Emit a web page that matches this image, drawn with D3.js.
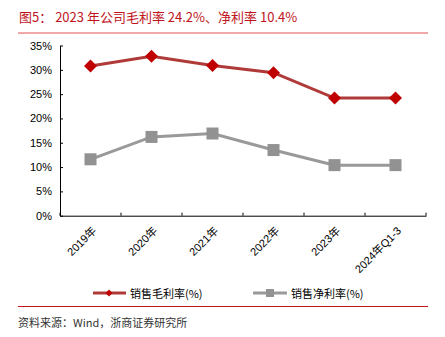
<!DOCTYPE html>
<html><head><meta charset="utf-8">
<script src="https://cdn.jsdelivr.net/npm/d3@7"></script>
<style>
body{margin:0;background:#fff;}
svg{display:block;font-family:"Liberation Sans","Noto Sans CJK SC",sans-serif;}
</style></head>
<body><svg id="c" width="445" height="337"></svg>
<script>
const categories = ["2019年","2020年","2021年","2022年","2023年","2024年Q1-3"];
const grossMargin = [30.8, 32.8, 30.9, 29.4, 24.2, 24.2];
const netMargin = [11.6, 16.2, 16.9, 13.5, 10.4, 10.4];
const yTicks = [0,5,10,15,20,25,30,35];
const seriesNames = ["销售毛利率(%)","销售净利率(%)"];
const titleText = "图5： 2023 年公司毛利率 24.2%、净利率 10.4%";
const sourceText = "资料来源：Wind，浙商证券研究所";

const svg = d3.select("#c");
const cjk = "'Noto Sans CJK SC',sans-serif";

svg.append("text").attr("x",19).attr("y",22).attr("fill","#c0141c")
  .attr("font-size",13).attr("font-family",cjk).text(titleText);
svg.append("line").attr("x1",18).attr("x2",428).attr("y1",33).attr("y2",33)
  .attr("stroke","#e05050").attr("stroke-width",1);

const x = d3.scaleBand().domain(categories).range([60,426]);
const y = d3.scaleLinear().domain([0,35]).range([215.7,45.5]);

const yAxis = svg.append("g").attr("transform","translate(60,0)")
  .call(d3.axisLeft(y).tickValues(yTicks).tickFormat(d=>d+"%").tickSizeInner(-3).tickSizeOuter(0).tickPadding(8));
yAxis.selectAll("text").attr("font-size",11).attr("fill","#000");
yAxis.select(".domain").attr("stroke","#000");

const xAxis = svg.append("g").attr("transform","translate(0,215.7)")
  .call(d3.axisBottom(x).tickSize(0).tickSizeOuter(0).tickPadding(0));
xAxis.select(".domain").attr("stroke","#000");
xAxis.selectAll("text").remove();
// boundary ticks
const bounds = categories.map(c=>x(c)).concat([x.range()[1]]);
svg.append("g").selectAll("line").data(bounds).join("line")
  .attr("x1",d=>d).attr("x2",d=>d).attr("y1",215.7).attr("y2",212.7).attr("stroke","#000");
svg.append("g").selectAll("text").data(categories).join("text")
  .attr("transform",d=>`translate(${x(d)+x.bandwidth()/2+1},${226}) rotate(-45)`)
  .attr("text-anchor","end").attr("font-size",11).attr("dy","0.7em")
  .attr("font-family","'Liberation Sans','Noto Sans CJK SC',sans-serif")
  .text(d=>d);

const cx = d=>x(d)+x.bandwidth()/2;
const line = d3.line().x((d,i)=>cx(categories[i])).y(d=>y(d));

svg.append("path").datum(netMargin).attr("d",line).attr("fill","none")
  .attr("stroke","#999999").attr("stroke-width",3);
svg.append("g").selectAll("rect").data(netMargin).join("rect")
  .attr("x",(d,i)=>cx(categories[i])-6).attr("y",d=>y(d)-6).attr("width",12).attr("height",12)
  .attr("fill","#929292");

svg.append("path").datum(grossMargin).attr("d",line).attr("fill","none")
  .attr("stroke","#b03a3a").attr("stroke-width",3);
svg.append("g").selectAll("path.m").data(grossMargin).join("path")
  .attr("transform",(d,i)=>`translate(${cx(categories[i])},${y(d)})`)
  .attr("d","M0,-6.5L6.5,0L0,6.5L-6.5,0Z").attr("fill","#c00000");

// legend
const lg = svg.append("g");
lg.append("line").attr("x1",93).attr("x2",126).attr("y1",293).attr("y2",293).attr("stroke","#b03a3a").attr("stroke-width",3);
lg.append("path").attr("transform","translate(109,293)").attr("d","M0,-3.5L3.5,0L0,3.5L-3.5,0Z").attr("fill","#c00000");
lg.append("text").attr("x",130).attr("y",297.5).attr("font-size",11).attr("font-family",cjk).text(seriesNames[0]);
lg.append("line").attr("x1",253).attr("x2",287).attr("y1",293).attr("y2",293).attr("stroke","#999999").attr("stroke-width",3);
lg.append("rect").attr("x",266).attr("y",289).attr("width",8).attr("height",8).attr("fill","#929292");
lg.append("text").attr("x",291).attr("y",297.5).attr("font-size",11).attr("font-family",cjk).text(seriesNames[1]);

svg.append("line").attr("x1",18).attr("x2",428).attr("y1",306.5).attr("y2",306.5)
  .attr("stroke","#c0141c").attr("stroke-width",1);
svg.append("text").attr("x",18).attr("y",327).attr("font-size",11).attr("fill","#333")
  .attr("font-family",cjk).text(sourceText);
</script></body></html>
